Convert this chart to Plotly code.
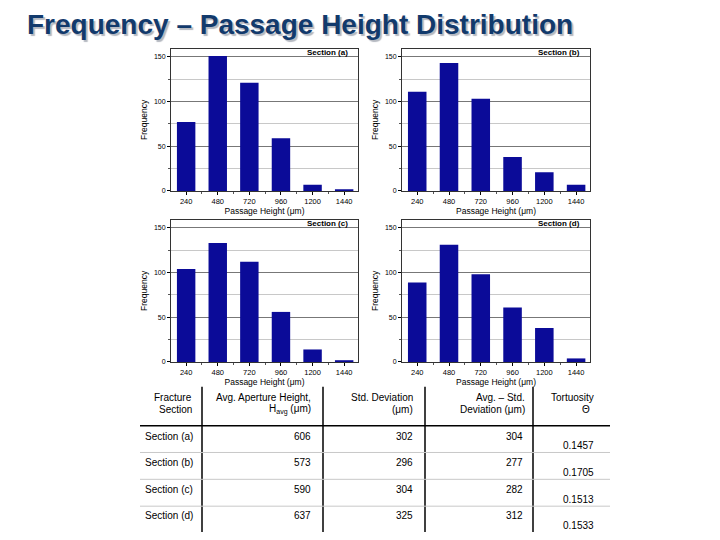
import plotly.graph_objects as go

# ---------------- data ----------------
heights = [240, 480, 720, 960, 1200, 1440]
freq_a = [77, 151, 121, 59, 7, 2]
freq_b = [111, 143, 103, 38, 21, 7]
freq_c = [104, 133, 112, 56, 14, 2]
freq_d = [89, 131, 98, 61, 38, 4]
panel_labels = ["Section (a)", "Section (b)", "Section (c)", "Section (d)"]
y_ticks = [0, 50, 100, 150]

table_header = [
    ["Fracture", "Section"],
    ["Avg. Aperture Height,", "H<sub>avg</sub> (μm)"],
    ["Std. Deviation", "(μm)"],
    ["Avg. – Std.", "Deviation (μm)"],
    ["Tortuosity", "Θ"],
]
sections = ["Section (a)", "Section (b)", "Section (c)", "Section (d)"]
avg_height = [606, 573, 590, 637]
std_dev = [302, 296, 304, 325]
avg_minus_std = [304, 277, 282, 312]
tortuosity = [0.1457, 0.1705, 0.1513, 0.1533]

# ---------------- layout helpers ----------------
# the page body has an 8px margin, so the figure is drawn 8px in from the window edge
OFF = 8
W, H = 720 - OFF, 540 - OFF
def px(x):
    return (x - OFF) / W
def py(y):
    return 1 - (y - OFF) / H

BAR = "#0b0b98"
FONT = "Liberation Sans, Arial, sans-serif"

panels = [
    (freq_a, (171, 358), (49, 192)),
    (freq_b, (402, 590), (49, 192)),
    (freq_c, (171, 358), (221, 364)),
    (freq_d, (402, 590), (221, 364)),
]

fig = go.Figure()
annotations = []
shapes = []

for i, (vals, (x0, x1), (y0, y1)) in enumerate(panels):
    n = "" if i == 0 else str(i + 1)
    fig.add_trace(go.Bar(
        x=heights, y=vals, width=140,
        marker=dict(color=BAR, line=dict(width=0)),
        xaxis="x" + n, yaxis="y" + n, showlegend=False,
    ))
    fig.update_layout(**{
        "xaxis" + n: dict(
            domain=[px(x0), px(x1)], anchor="y" + n,
            range=[125, 1545], tickvals=heights,
            ticktext=[str(h) for h in heights],
            tickfont=dict(size=7.5, family=FONT, color="#000"),
            ticks="outside", ticklen=3, tickcolor="#000",
            minor=dict(tick0=0, dtick=120, ticks="outside", ticklen=2, tickcolor="#555"),
            showgrid=False, zeroline=False,
            showline=True, linecolor="#333", linewidth=1, mirror=True,
            title=dict(text="Passage Height (μm)", standoff=2,
                       font=dict(size=8.5, family=FONT, color="#000")),
            fixedrange=True,
        ),
        "yaxis" + n: dict(
            domain=[py(y1), py(y0)], anchor="x" + n,
            range=[0, 159], tickvals=y_ticks,
            tickfont=dict(size=7, family=FONT, color="#000"),
            ticks="outside", ticklen=3, tickcolor="#000",
            showgrid=True, gridcolor="#777", gridwidth=1,
            minor=dict(dtick=25, showgrid=True, gridcolor="#c8c8c8", gridwidth=1,
                       ticks="outside", ticklen=2, tickcolor="#555"),
            zeroline=False,
            showline=True, linecolor="#333", linewidth=1, mirror=True,
            title=dict(text="Frequency", standoff=4,
                       font=dict(size=8.5, family=FONT, color="#000")),
            fixedrange=True,
        ),
    })
    annotations.append(dict(
        text="<b>" + panel_labels[i] + "</b>", xref="paper", yref="paper",
        x=px(x1 - 8), y=py(y0 + 4), xanchor="right", yanchor="middle",
        showarrow=False, font=dict(size=8, family=FONT, color="#000"),
    ))

# ---------------- title with shadow ----------------
annotations.append(dict(text="<b>Frequency – Passage Height Distribution</b>",
                        xref="paper", yref="paper",
                        x=px(25), y=py(25), xanchor="left", yanchor="middle",
                        showarrow=False,
                        font=dict(size=28, family=FONT, color="#123a6c",
                                  shadow="2px 2px 1px #b4b8c0")))

# ---------------- table ----------------
col_lines = [202, 323, 425, 533]
tbl_left, tbl_right, tbl_top, tbl_bottom = 140, 610, 389, 535
header_sep = 428
row_seps = [455, 482, 509]
header_anchor = [(194, "right"), (313, "right"), (415, "right"), (527, "right"), (596, "right")]
header_line_y = [400, 412]
row_text_y = [439, 465, 492, 518]
tort_text_y = [448, 475, 502, 528]

for xc in col_lines:
    shapes.append(dict(type="line", xref="paper", yref="paper",
                       x0=px(xc), x1=px(xc), y0=py(tbl_top), y1=py(tbl_bottom),
                       line=dict(color="#000", width=1.5)))
shapes.append(dict(type="line", xref="paper", yref="paper",
                   x0=px(tbl_left), x1=px(tbl_right), y0=py(header_sep), y1=py(header_sep),
                   line=dict(color="#000", width=1.5)))
for ys in row_seps:
    shapes.append(dict(type="line", xref="paper", yref="paper",
                       x0=px(tbl_left), x1=px(tbl_right), y0=py(ys), y1=py(ys),
                       line=dict(color="#c8c8c8", width=1)))

tf = dict(size=10, family=FONT, color="#000")
for c, lines in enumerate(table_header):
    xa, anc = header_anchor[c]
    for k, t in enumerate(lines):
        xx, aa = xa, anc
        if c == 4 and k == 1:
            xx, aa = 586, "center"
        annotations.append(dict(text=t, xref="paper", yref="paper",
                                x=px(xx), y=py(header_line_y[k]), xanchor=aa, yanchor="middle",
                                showarrow=False, font=tf))

for r in range(len(sections)):
    annotations.append(dict(text=sections[r], xref="paper", yref="paper",
                            x=px(143), y=py(row_text_y[r]), xanchor="left", yanchor="middle",
                            showarrow=False, font=tf))
    for c, col in enumerate([avg_height, std_dev, avg_minus_std]):
        xr = [313, 415, 525][c]
        annotations.append(dict(text=str(col[r]), xref="paper", yref="paper",
                                x=px(xr), y=py(row_text_y[r]), xanchor="right", yanchor="middle",
                                showarrow=False, font=tf))
    annotations.append(dict(text=f"{tortuosity[r]:.4f}", xref="paper", yref="paper",
                            x=px(596), y=py(tort_text_y[r]), xanchor="right", yanchor="middle",
                            showarrow=False, font=tf))

fig.update_layout(
    width=W, height=H, margin=dict(l=0, r=0, t=0, b=0),
    paper_bgcolor="white", plot_bgcolor="white",
    bargap=0.4, annotations=annotations, shapes=shapes,
    font=dict(family=FONT),
)

fig.write_html("out.html")
